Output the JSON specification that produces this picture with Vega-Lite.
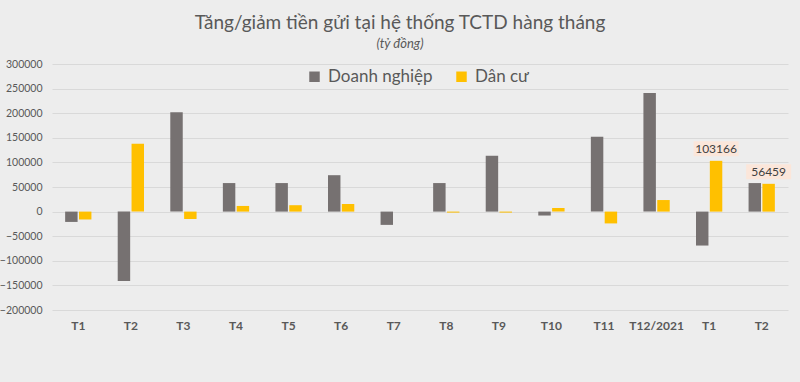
{
  "$schema": "https://vega.github.io/schema/vega-lite/v6.json",
  "autosize": "none",
  "width": 736,
  "height": 246,
  "padding": {"left": 52, "top": 64, "right": 12, "bottom": 72},
  "background": "#EDEDED",
  "title": {
    "text": "Tăng/giảm tiền gửi tại hệ thống TCTD hàng tháng",
    "subtitle": "(tỷ đồng)",
    "anchor": "middle",
    "dx": -20,
    "offset": 8,
    "font": "Lato",
    "fontSize": 19,
    "fontWeight": "normal",
    "color": "#595959",
    "subtitleFont": "Lato",
    "subtitleFontSize": 13,
    "subtitleFontStyle": "italic",
    "subtitleColor": "#595959",
    "subtitlePadding": 5
  },
  "config": {
    "view": {"stroke": null},
    "font": "Lato"
  },
  "data": {
    "values": [
      {"key": "T1|21", "series": "Doanh nghiệp", "value": -21000},
      {"key": "T1|21", "series": "Dân cư", "value": -16000},
      {"key": "T2|21", "series": "Doanh nghiệp", "value": -141000},
      {"key": "T2|21", "series": "Dân cư", "value": 138000},
      {"key": "T3|21", "series": "Doanh nghiệp", "value": 202000},
      {"key": "T3|21", "series": "Dân cư", "value": -15000},
      {"key": "T4|21", "series": "Doanh nghiệp", "value": 58000},
      {"key": "T4|21", "series": "Dân cư", "value": 11500},
      {"key": "T5|21", "series": "Doanh nghiệp", "value": 58000},
      {"key": "T5|21", "series": "Dân cư", "value": 13000},
      {"key": "T6|21", "series": "Doanh nghiệp", "value": 74000},
      {"key": "T6|21", "series": "Dân cư", "value": 15500},
      {"key": "T7|21", "series": "Doanh nghiệp", "value": -27000},
      {"key": "T7|21", "series": "Dân cư", "value": 0},
      {"key": "T8|21", "series": "Doanh nghiệp", "value": 58000},
      {"key": "T8|21", "series": "Dân cư", "value": -2000},
      {"key": "T9|21", "series": "Doanh nghiệp", "value": 113500},
      {"key": "T9|21", "series": "Dân cư", "value": -2000},
      {"key": "T10|21", "series": "Doanh nghiệp", "value": -8000},
      {"key": "T10|21", "series": "Dân cư", "value": 7500},
      {"key": "T11|21", "series": "Doanh nghiệp", "value": 152000},
      {"key": "T11|21", "series": "Dân cư", "value": -24000},
      {"key": "T12/2021|21", "series": "Doanh nghiệp", "value": 241000},
      {"key": "T12/2021|21", "series": "Dân cư", "value": 23500},
      {"key": "T1|22", "series": "Doanh nghiệp", "value": -69000},
      {"key": "T1|22", "series": "Dân cư", "value": 103166, "label": "103166"},
      {"key": "T2|22", "series": "Doanh nghiệp", "value": 58000},
      {"key": "T2|22", "series": "Dân cư", "value": 56459, "label": "56459"}
    ]
  },
  "encoding": {
    "x": {
      "field": "key",
      "type": "nominal",
      "sort": null,
      "scale": {"paddingInner": 0.5, "paddingOuter": 0.25},
      "axis": {
        "title": null,
        "labelExpr": "split(datum.value, '|')[0]",
        "labelAngle": 0,
        "labelFontWeight": "bold",
        "labelFontSize": 12,
        "labelColor": "#595959",
        "labelPadding": 10,
        "domain": false,
        "ticks": false
      }
    },
    "xOffset": {
      "field": "series",
      "type": "nominal",
      "sort": ["Doanh nghiệp", "Dân cư"],
      "scale": {"paddingInner": 0.1, "paddingOuter": 0}
    },
    "y": {
      "field": "value",
      "type": "quantitative",
      "scale": {"domain": [-200000, 300000], "nice": false},
      "axis": {
        "title": null,
        "values": [-200000, -150000, -100000, -50000, 0, 50000, 100000, 150000, 200000, 250000, 300000],
        "format": "d",
        "labelFontSize": 10.5,
        "labelColor": "#595959",
        "labelPadding": 10,
        "domain": false,
        "ticks": false,
        "gridColor": "#D9D9D9",
        "gridWidth": 1
      }
    }
  },
  "layer": [
    {
      "mark": {"type": "bar"},
      "encoding": {
        "color": {
          "field": "series",
          "type": "nominal",
          "sort": ["Doanh nghiệp", "Dân cư"],
          "scale": {"domain": ["Doanh nghiệp", "Dân cư"], "range": ["#767171", "#FFC000"]},
          "legend": {
            "title": null,
            "orient": "none",
            "direction": "horizontal",
            "legendX": 254,
            "legendY": 4,
            "symbolType": "square",
            "symbolSize": 110,
            "symbolOpacity": 1,
            "labelFontSize": 17,
            "labelColor": "#595959",
            "columnPadding": 20,
            "labelOffset": 5
          }
        }
      }
    },
    {
      "transform": [{"filter": "datum.label != null"}],
      "mark": {
        "type": "point",
        "shape": "M-3,-1H3V1H-3Z",
        "size": 225,
        "filled": true,
        "opacity": 1,
        "color": "#FBE6DA",
        "yOffset": -12
      },
      "encoding": {}
    },
    {
      "transform": [{"filter": "datum.label != null"}],
      "mark": {
        "type": "text",
        "dy": -12,
        "baseline": "middle",
        "fontSize": 12,
        "color": "#404040"
      },
      "encoding": {"text": {"field": "label"}}
    }
  ]
}
